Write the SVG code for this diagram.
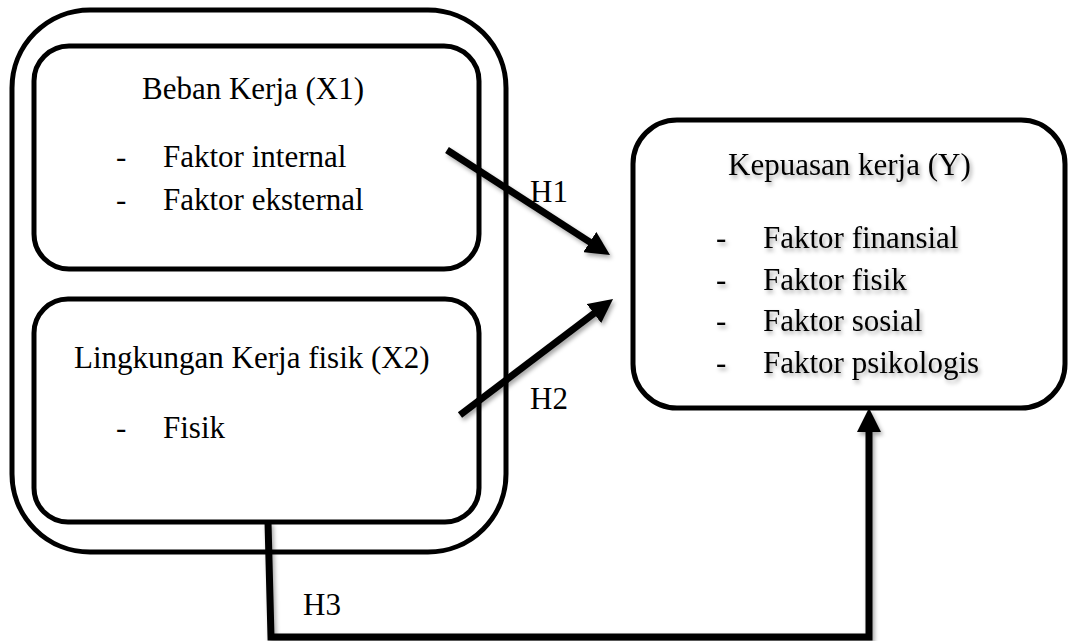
<svg xmlns="http://www.w3.org/2000/svg" width="1069" height="641" viewBox="0 0 1069 641">
  <style>
    .box { fill: none; stroke: #000; stroke-width: 5; }
    .t { font-family: "Liberation Serif", "Times New Roman", serif; font-size: 31px; fill: #000; }
    .conn { fill: none; stroke: #000; stroke-width: 7; }
  </style>
  <defs>
    <filter id="sh" x="-20%" y="-20%" width="140%" height="140%">
      <feDropShadow dx="2" dy="3" stdDeviation="2" flood-color="#000" flood-opacity="0.35"/>
    </filter>
    <marker id="ah" viewBox="0 0 24 24" refX="2" refY="12" markerWidth="24" markerHeight="24" markerUnits="userSpaceOnUse" orient="auto">
      <path d="M0,0 L24,12 L0,24 z" fill="#000"/>
    </marker>
  </defs>
  <rect width="1069" height="641" fill="#fff"/>

  <g id="group-x">
    <rect class="box" x="12" y="10" width="494" height="542" rx="78" ry="78"/>
  </g>

  <g id="node-x1">
    <rect class="box" x="34" y="46" width="445" height="223" rx="35" ry="35"/>
    <text class="t" x="142" y="99">Beban Kerja (X1)</text>
    <text class="t" x="116" y="167">-</text>
    <text class="t" x="163" y="167">Faktor internal</text>
    <text class="t" x="116" y="210">-</text>
    <text class="t" x="163" y="210">Faktor eksternal</text>
  </g>

  <g id="node-x2">
    <rect class="box" x="34" y="299" width="445" height="223" rx="34" ry="34"/>
    <text class="t" x="74" y="368">Lingkungan Kerja fisik (X2)</text>
    <text class="t" x="116" y="438">-</text>
    <text class="t" x="163" y="438">Fisik</text>
  </g>

  <g id="node-y">
    <rect class="box" x="633" y="120" width="432" height="288" rx="44" ry="44"/>
    <g filter="url(#sh)">
      <text class="t" x="728" y="175">Kepuasan kerja (Y)</text>
      <text class="t" x="716" y="248">-</text>
      <text class="t" x="763" y="248">Faktor finansial</text>
      <text class="t" x="716" y="290">-</text>
      <text class="t" x="763" y="290">Faktor fisik</text>
      <text class="t" x="716" y="331">-</text>
      <text class="t" x="763" y="331">Faktor sosial</text>
      <text class="t" x="716" y="373">-</text>
      <text class="t" x="763" y="373">Faktor psikologis</text>
    </g>
  </g>

  <g id="connectors" filter="url(#sh)">
    <path class="conn" d="M447,150 L591.5,243.1" marker-end="url(#ah)"/>
    <path class="conn" d="M460,415 L595.5,312.3" marker-end="url(#ah)"/>
    <path class="conn" d="M268,522 L271,637 L869,637 L869,430" marker-end="url(#ah)"/>
  </g>

  <g id="labels">
    <text class="t" x="530" y="202">H1</text>
    <text class="t" x="530" y="409">H2</text>
    <text class="t" x="303" y="615">H3</text>
  </g>
</svg>
